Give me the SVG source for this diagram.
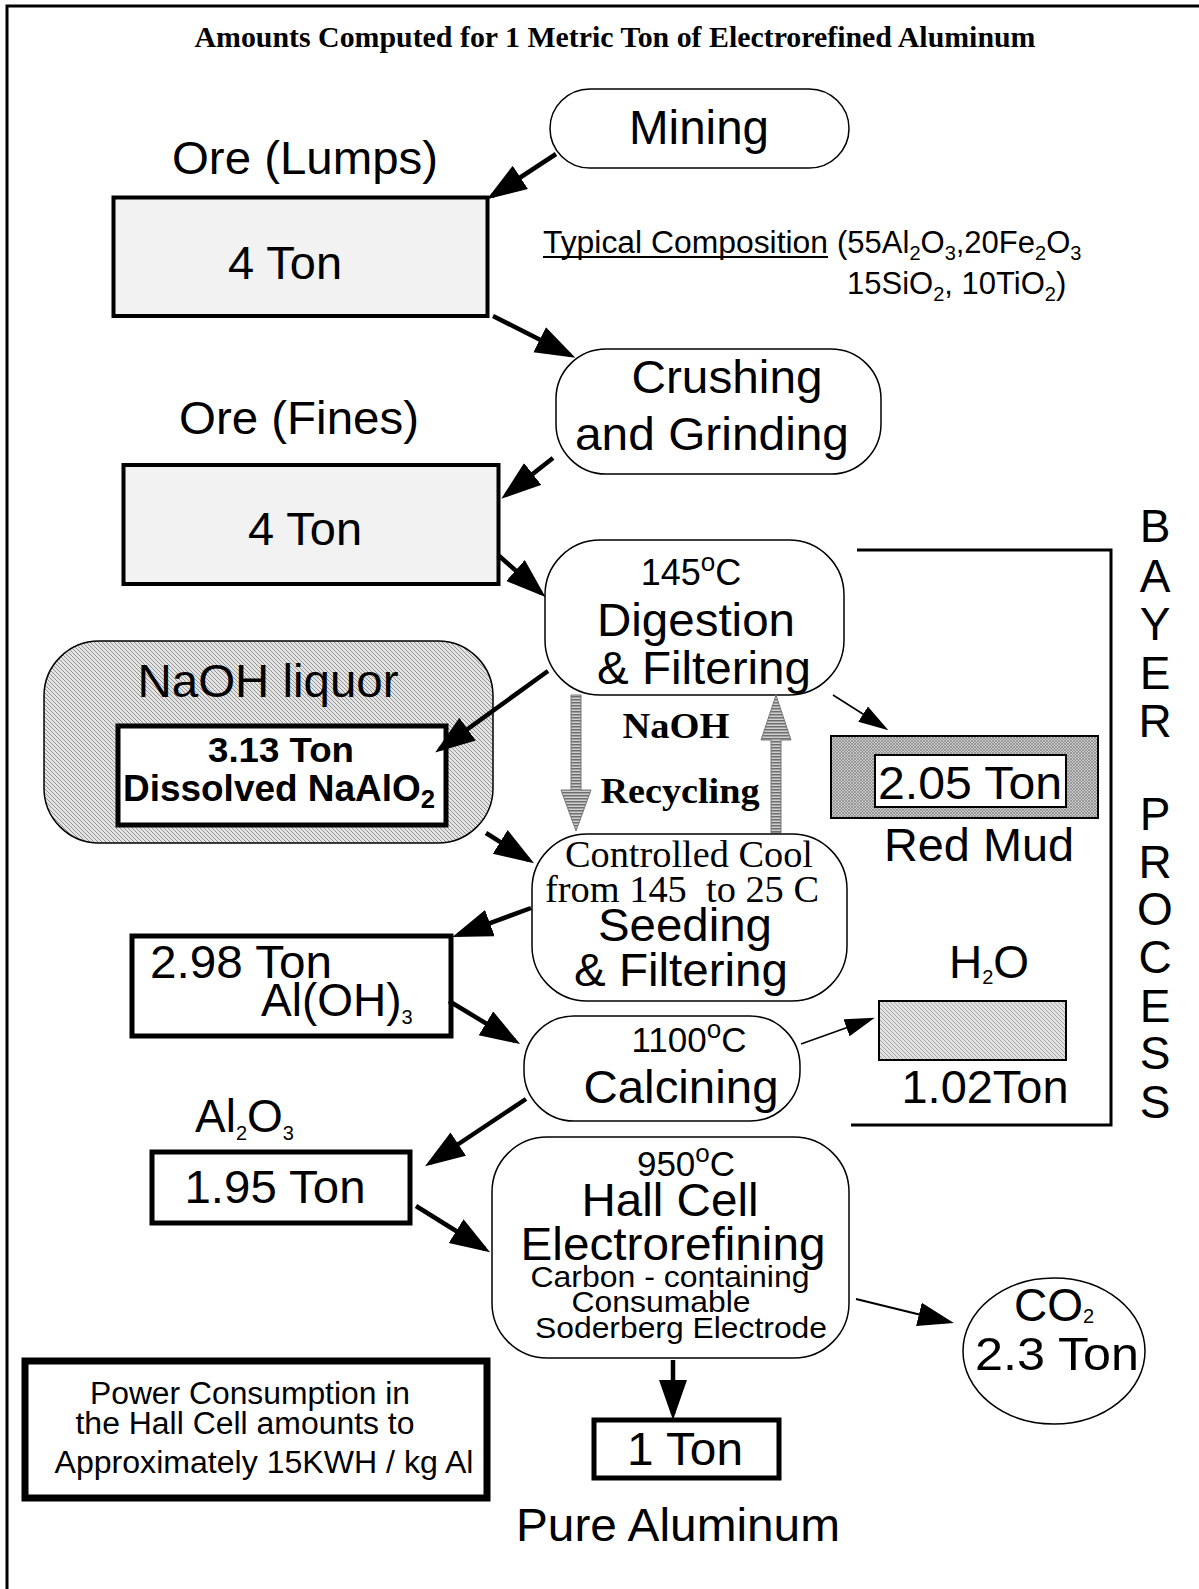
<svg xmlns="http://www.w3.org/2000/svg" width="1199" height="1589" viewBox="0 0 1199 1589">
<style>
.n{fill:#fff;stroke:#000;stroke-width:1.5}
.b{fill:#fff;stroke:#000;stroke-width:5}
.t{font-family:"Liberation Sans",Arial,sans-serif;fill:#000}
.s{font-family:"Liberation Serif","Times New Roman",serif;fill:#000}
.c{text-anchor:middle}
.arr{stroke:#000;stroke-width:4.5;fill:none;marker-end:url(#big)}
.thin{stroke:#000;stroke-width:1.5;fill:none;marker-end:url(#small)}
.med{stroke:#000;stroke-width:2.2;fill:none;marker-end:url(#mid)}
</style>
<defs>
<marker id="big" markerUnits="userSpaceOnUse" markerWidth="42" markerHeight="30" refX="34" refY="14" orient="auto"><path d="M0,0 L40,14 L0,28 z" fill="#000"/></marker>
<marker id="mid" markerUnits="userSpaceOnUse" markerWidth="40" markerHeight="26" refX="32" refY="12" orient="auto"><path d="M0,0 L36,12 L0,24 z" fill="#000"/></marker>
<marker id="small" markerUnits="userSpaceOnUse" markerWidth="32" markerHeight="22" refX="26" refY="9" orient="auto"><path d="M0,0 L30,9 L0,18 z" fill="#000"/></marker>
<pattern id="hatchA" patternUnits="userSpaceOnUse" width="4" height="4"><rect width="4" height="4" fill="#e4e4e4"/><path d="M-1,-1 L5,5 M3,-1 L5,1 M-1,3 L1,5" stroke="#8a8a8a" stroke-width="0.9"/></pattern>
<pattern id="hatchB" patternUnits="userSpaceOnUse" width="3" height="3"><rect width="3" height="3" fill="#c8c8c8"/><path d="M0,0 L3,3 M3,0 L0,3" stroke="#7a7a7a" stroke-width="0.6"/></pattern>
<pattern id="hatchC" patternUnits="userSpaceOnUse" width="4" height="4"><rect width="4" height="4" fill="#e2e2e2"/><path d="M-1,-1 L5,5 M3,-1 L5,1 M-1,3 L1,5" stroke="#999" stroke-width="0.8"/></pattern>
<pattern id="stripe" patternUnits="userSpaceOnUse" width="4" height="3"><rect width="4" height="3" fill="#cfcfcf"/><rect y="0" width="4" height="1.5" fill="#6e6e6e"/></pattern>
</defs>

<path d="M7,1589 V6 H1199" fill="none" stroke="#000" stroke-width="3"/>
<text class="s c" x="615" y="47" font-size="30" font-weight="bold" textLength="841" lengthAdjust="spacingAndGlyphs">Amounts Computed for 1 Metric Ton of Electrorefined Aluminum</text>

<g id="mining"><rect class="n" x="550" y="89" width="299" height="79" rx="40"/><text class="t c" x="699" y="144" font-size="48" textLength="140" lengthAdjust="spacingAndGlyphs">Mining</text></g>

<g id="ore-lumps"><text class="t c" x="305" y="174" font-size="47" textLength="266" lengthAdjust="spacingAndGlyphs">Ore (Lumps)</text>
<rect x="113.5" y="197.5" width="374" height="118.5" fill="#f2f2f2" stroke="#000" stroke-width="4"/>
<text class="t c" x="285" y="279" font-size="46" textLength="114" lengthAdjust="spacingAndGlyphs">4 Ton</text></g>

<g id="composition"><text class="t" x="543" y="253" font-size="31" textLength="285" lengthAdjust="spacingAndGlyphs">Typical Composition</text>
<line x1="543" y1="257" x2="828" y2="257" stroke="#000" stroke-width="2"/>
<text class="t" x="837" y="253" font-size="31">(55Al<tspan font-size="20" dy="7">2</tspan><tspan dy="-7">O</tspan><tspan font-size="20" dy="7">3</tspan><tspan dy="-7">,20Fe</tspan><tspan font-size="20" dy="7">2</tspan><tspan dy="-7">O</tspan><tspan font-size="20" dy="7">3</tspan></text>
<text class="t" x="847" y="294" font-size="31">15SiO<tspan font-size="20" dy="7">2</tspan><tspan dy="-7">, 10TiO</tspan><tspan font-size="20" dy="7">2</tspan><tspan dy="-7">)</tspan></text></g>

<g id="crushing"><rect class="n" x="556" y="349" width="325" height="125" rx="50"/>
<text class="t c" x="727" y="393" font-size="47" textLength="191" lengthAdjust="spacingAndGlyphs">Crushing</text>
<text class="t c" x="712" y="450" font-size="47" textLength="274" lengthAdjust="spacingAndGlyphs">and Grinding</text></g>

<g id="ore-fines"><text class="t c" x="299" y="434" font-size="47" textLength="240" lengthAdjust="spacingAndGlyphs">Ore (Fines)</text>
<rect x="123.5" y="465" width="375" height="119" fill="#f2f2f2" stroke="#000" stroke-width="4"/>
<text class="t c" x="305" y="545" font-size="46" textLength="114" lengthAdjust="spacingAndGlyphs">4 Ton</text></g>

<g id="digestion"><rect class="n" x="545" y="540" width="299" height="155" rx="55"/>
<text class="t c" x="691" y="585" font-size="36">145<tspan font-size="26" dy="-14">o</tspan><tspan dy="14">C</tspan></text>
<text class="t c" x="696" y="636" font-size="47" textLength="198" lengthAdjust="spacingAndGlyphs">Digestion</text>
<text class="t c" x="704" y="684" font-size="47" textLength="214" lengthAdjust="spacingAndGlyphs">&amp; Filtering</text></g>

<g id="naoh-liquor"><rect x="44" y="641" width="449" height="202" rx="55" fill="url(#hatchA)" stroke="#000" stroke-width="1.5"/>
<text class="t c" x="268" y="697" font-size="47" textLength="261" lengthAdjust="spacingAndGlyphs">NaOH liquor</text>
<rect class="b" x="118" y="726" width="328" height="99"/>
<text class="t c" x="281" y="762" font-size="35" font-weight="bold" textLength="146" lengthAdjust="spacingAndGlyphs">3.13 Ton</text>
<text class="t" x="123" y="801" font-size="36" font-weight="bold" textLength="312" lengthAdjust="spacingAndGlyphs">Dissolved NaAlO<tspan font-size="25" dy="7">2</tspan></text></g>

<g id="recycling">
<polygon points="571,695 581,695 581,790 591,790 576,831 561,790 571,790" fill="url(#stripe)" stroke="#777" stroke-width="1"/>
<polygon points="771,833 781,833 781,740 791,740 776,695 761,740 771,740" fill="url(#stripe)" stroke="#777" stroke-width="1"/>
<text class="s c" x="676" y="738" font-size="36" font-weight="bold" textLength="107" lengthAdjust="spacingAndGlyphs">NaOH</text>
<text class="s c" x="680" y="803" font-size="36" font-weight="bold" textLength="159" lengthAdjust="spacingAndGlyphs">Recycling</text></g>

<g id="red-mud"><rect x="831" y="736" width="267" height="82" fill="url(#hatchB)" stroke="#000" stroke-width="2"/>
<rect x="875" y="755" width="191" height="52" fill="#fff" stroke="#000" stroke-width="2"/>
<text class="t c" x="970" y="799" font-size="46" textLength="184" lengthAdjust="spacingAndGlyphs">2.05 Ton</text>
<text class="t c" x="979" y="861" font-size="46" textLength="190" lengthAdjust="spacingAndGlyphs">Red Mud</text></g>

<g id="bayer"><polyline points="857,550 1111,550 1111,1125 851,1125" fill="none" stroke="#000" stroke-width="3"/>
<g class="t c" font-size="46">
<text x="1155" y="542">B</text><text x="1155" y="592">A</text><text x="1155" y="640">Y</text><text x="1155" y="689">E</text><text x="1155" y="737">R</text>
<text x="1155" y="830">P</text><text x="1155" y="878">R</text><text x="1155" y="925">O</text><text x="1155" y="973">C</text><text x="1155" y="1022">E</text><text x="1155" y="1069">S</text><text x="1155" y="1118">S</text>
</g></g>

<g id="seeding"><rect class="n" x="532" y="834" width="315" height="167" rx="55"/>
<text class="s c" x="689" y="867" font-size="38" textLength="248" lengthAdjust="spacingAndGlyphs">Controlled Cool</text>
<text class="s c" x="682" y="902" font-size="38" textLength="274" lengthAdjust="spacingAndGlyphs" xml:space="preserve">from 145  to 25 C</text>
<text class="t c" x="685" y="941" font-size="47" textLength="174" lengthAdjust="spacingAndGlyphs">Seeding</text>
<text class="t c" x="681" y="986" font-size="47" textLength="214" lengthAdjust="spacingAndGlyphs">&amp; Filtering</text></g>

<g id="aloh3"><rect class="b" x="132" y="936" width="319" height="100"/>
<text class="t" x="150" y="978" font-size="46" textLength="182" lengthAdjust="spacingAndGlyphs">2.98 Ton</text>
<text class="t" x="261" y="1016" font-size="46">Al(OH)<tspan font-size="20" dy="8">3</tspan></text></g>

<g id="calcining"><rect class="n" x="524" y="1016" width="276" height="105" rx="50"/>
<text class="t c" x="689" y="1052" font-size="35">1100<tspan font-size="26" dy="-14">o</tspan><tspan dy="14">C</tspan></text>
<text class="t c" x="681" y="1103" font-size="47" textLength="195" lengthAdjust="spacingAndGlyphs">Calcining</text></g>

<g id="water"><text class="t c" x="989" y="978" font-size="46">H<tspan font-size="20" dy="6">2</tspan><tspan dy="-6">O</tspan></text>
<rect x="879" y="1001" width="187" height="59" fill="url(#hatchC)" stroke="#000" stroke-width="2"/>
<text class="t c" x="985" y="1103" font-size="46" textLength="167" lengthAdjust="spacingAndGlyphs">1.02Ton</text></g>

<g id="alumina"><text class="t" x="195" y="1132" font-size="46">Al<tspan font-size="20" dy="8">2</tspan><tspan dy="-8">O</tspan><tspan font-size="20" dy="8">3</tspan></text>
<rect class="b" x="152" y="1152" width="258" height="71"/>
<text class="t c" x="275" y="1203" font-size="46" textLength="181" lengthAdjust="spacingAndGlyphs">1.95 Ton</text></g>

<g id="hall-cell"><rect class="n" x="492" y="1137" width="357" height="221" rx="55"/>
<text class="t c" x="686" y="1176" font-size="35">950<tspan font-size="26" dy="-14">o</tspan><tspan dy="14">C</tspan></text>
<text class="t c" x="670" y="1216" font-size="46" textLength="177" lengthAdjust="spacingAndGlyphs">Hall Cell</text>
<text class="t c" x="673" y="1260" font-size="46" textLength="305" lengthAdjust="spacingAndGlyphs">Electrorefining</text>
<text class="t c" x="670" y="1287" font-size="29" textLength="279" lengthAdjust="spacingAndGlyphs">Carbon - containing</text>
<text class="t c" x="661" y="1312" font-size="29" textLength="179" lengthAdjust="spacingAndGlyphs">Consumable</text>
<text class="t c" x="681" y="1338" font-size="29" textLength="292" lengthAdjust="spacingAndGlyphs">Soderberg Electrode</text></g>

<g id="co2"><ellipse class="n" cx="1054" cy="1351" rx="91" ry="73"/>
<text class="t c" x="1054" y="1321" font-size="46">CO<tspan font-size="20" dy="2">2</tspan></text>
<text class="t c" x="1057" y="1370" font-size="46" textLength="164" lengthAdjust="spacingAndGlyphs">2.3 Ton</text></g>

<g id="pure-al"><rect class="b" x="594" y="1420" width="185" height="58"/>
<text class="t c" x="685" y="1465" font-size="46" textLength="116" lengthAdjust="spacingAndGlyphs">1 Ton</text>
<text class="t c" x="678" y="1541" font-size="46" textLength="324" lengthAdjust="spacingAndGlyphs">Pure Aluminum</text></g>

<g id="power"><rect x="25" y="1361" width="462" height="137" fill="#fff" stroke="#000" stroke-width="7"/>
<text class="t c" x="250" y="1404" font-size="31" textLength="320" lengthAdjust="spacingAndGlyphs">Power Consumption in</text>
<text class="t c" x="245" y="1434" font-size="31" textLength="339" lengthAdjust="spacingAndGlyphs">the Hall Cell amounts to</text>
<text class="t c" x="264" y="1473" font-size="31" textLength="419" lengthAdjust="spacingAndGlyphs">Approximately 15KWH / kg Al</text></g>

<g id="connectors">
<line class="arr" x1="556" y1="154" x2="492" y2="196"/>
<line class="arr" x1="493" y1="316" x2="570" y2="355"/>
<line class="arr" x1="553" y1="458" x2="506" y2="495"/>
<line class="arr" x1="498" y1="555" x2="541" y2="593"/>
<line class="arr" x1="548" y1="671" x2="440" y2="749"/>
<line class="arr" x1="486" y1="833" x2="529" y2="860"/>
<line class="arr" x1="531" y1="908" x2="458" y2="935"/>
<line class="arr" x1="449" y1="1001" x2="515" y2="1041"/>
<line class="arr" x1="526" y1="1099" x2="430" y2="1163"/>
<line class="arr" x1="416" y1="1206" x2="485" y2="1249"/>
<line class="arr" x1="673" y1="1360" x2="673" y2="1414"/>
<line class="thin" x1="833" y1="695" x2="885" y2="728"/>
<line class="thin" x1="801" y1="1044" x2="871" y2="1019"/>
<line class="med" x1="856" y1="1299" x2="950" y2="1322"/>
</g>
</svg>
